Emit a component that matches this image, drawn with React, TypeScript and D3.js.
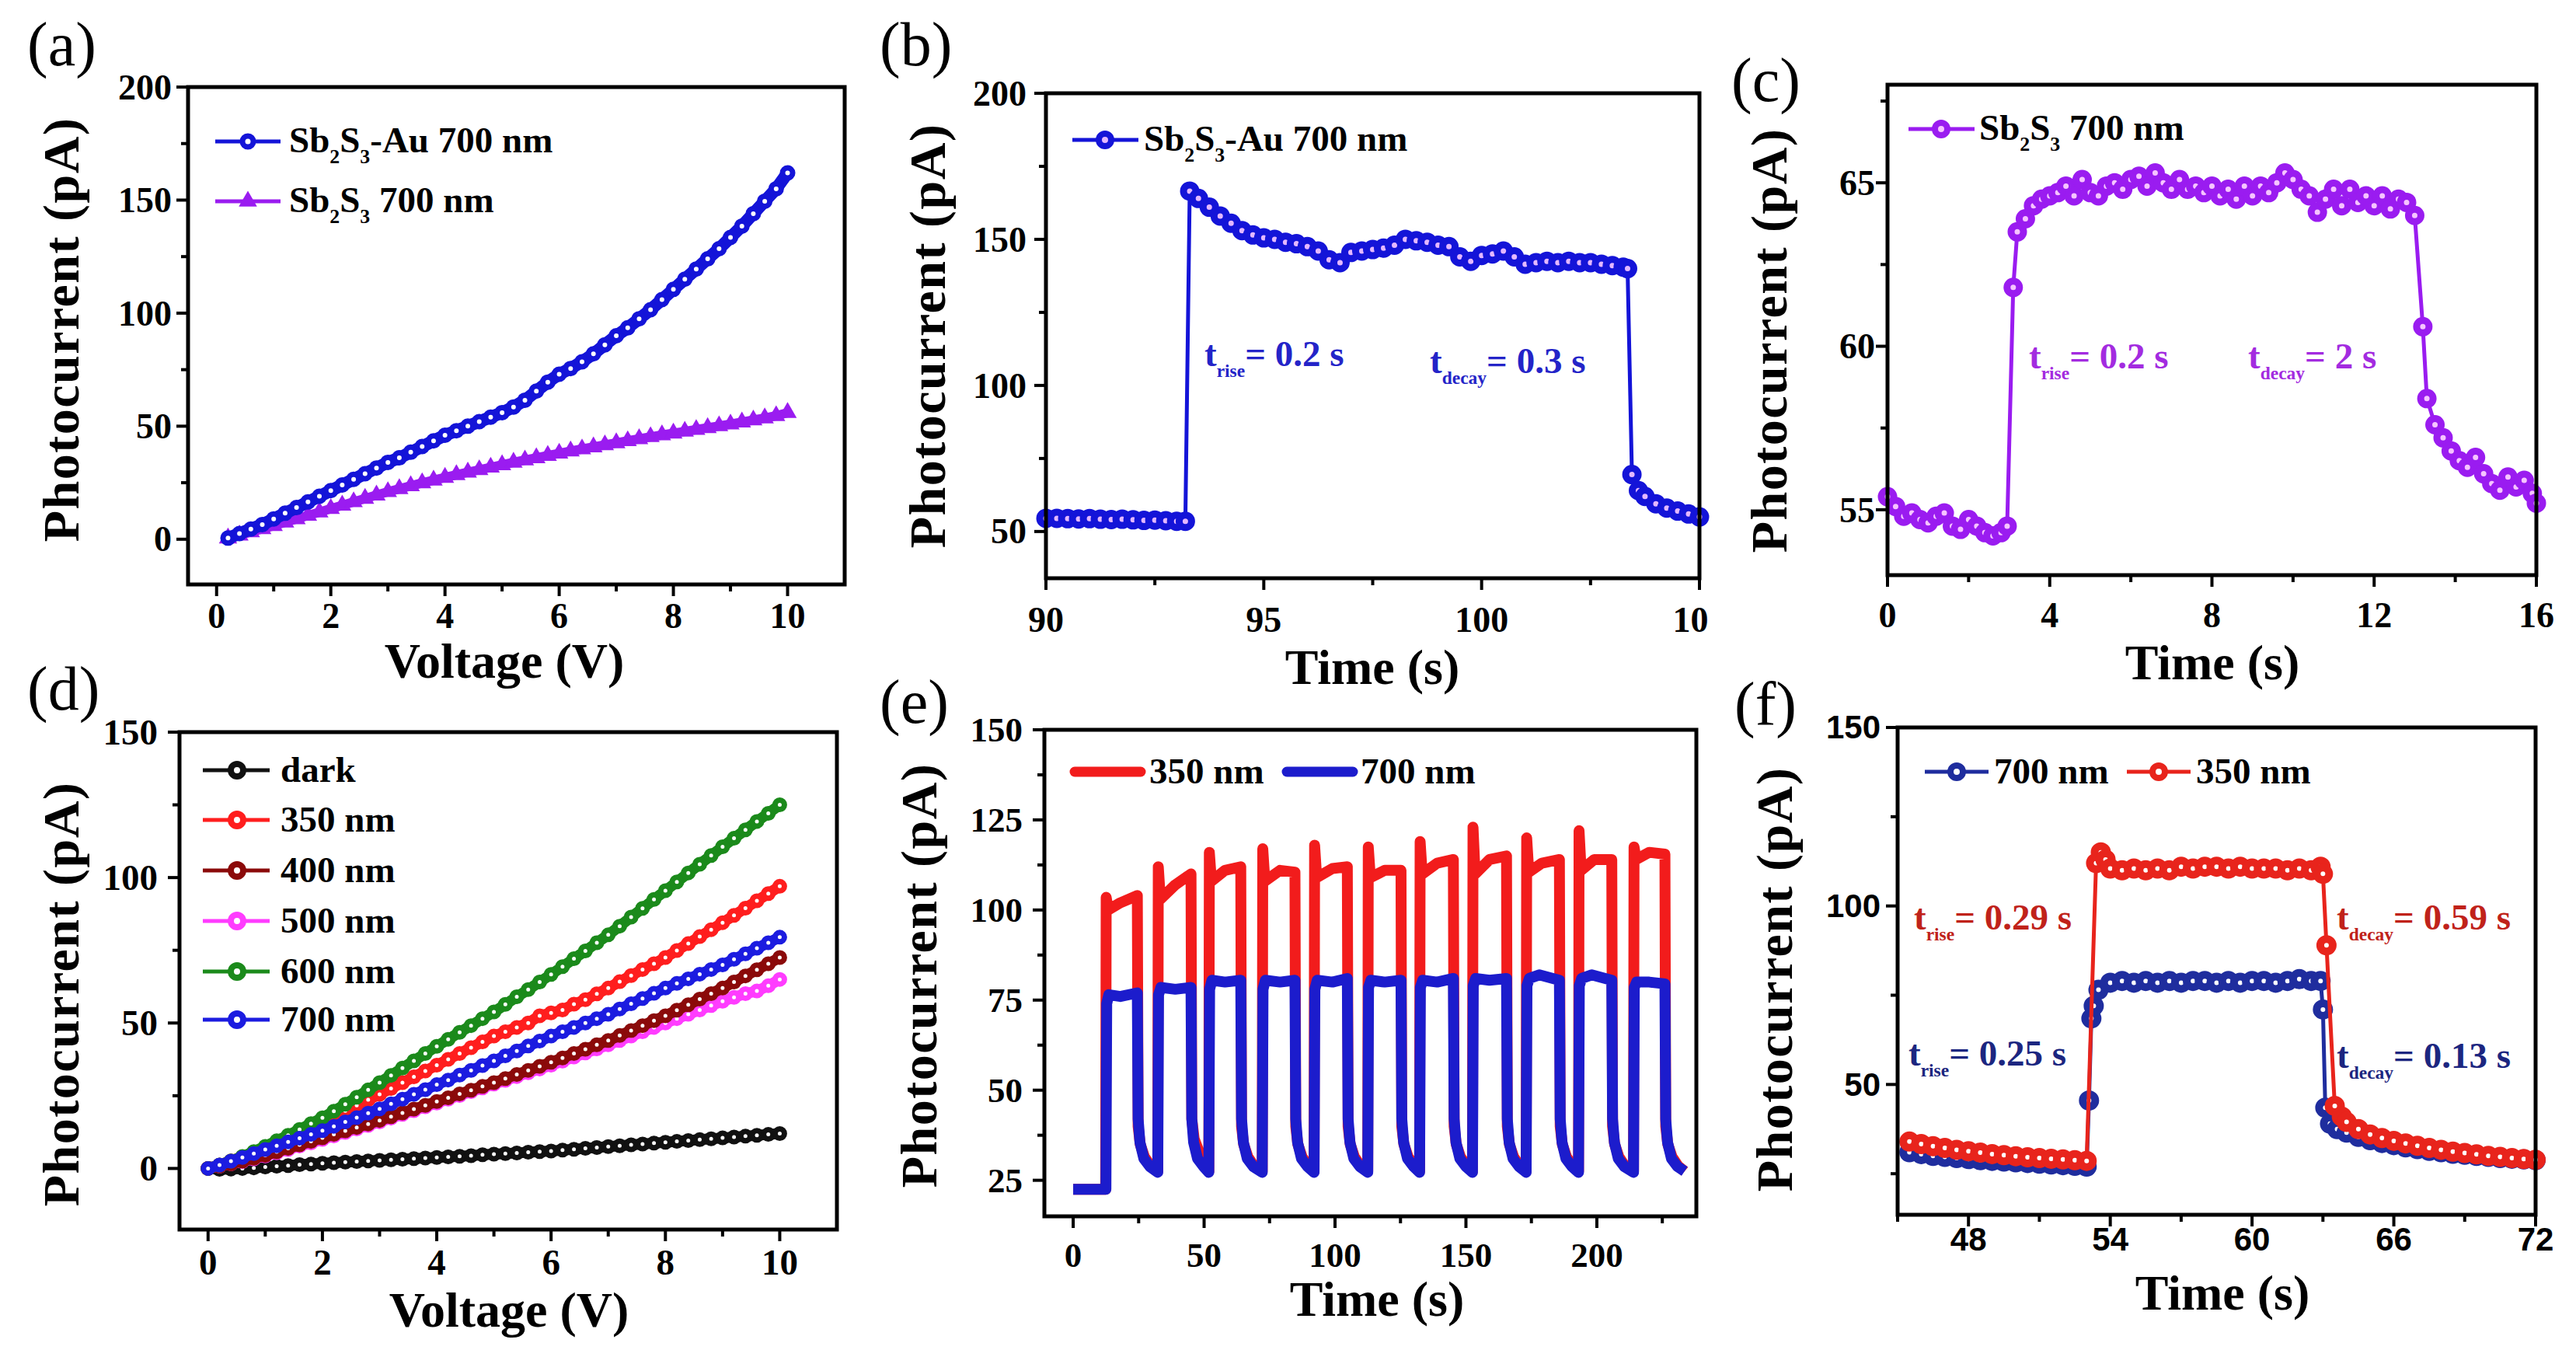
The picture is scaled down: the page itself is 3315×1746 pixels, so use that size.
import React from 'react';
import * as d3 from 'd3';

const SERIF = '"Liberation Serif", "Times New Roman", serif';
const SANS = '"Liberation Sans", Arial, sans-serif';

type Pt = [number, number];

// ---------- data ----------
// (a) & (d) voltage grid
const voltD = [0, 0.2, 0.4, 0.6, 0.8, 1, 1.2, 1.4, 1.6, 1.8, 2, 2.2, 2.4, 2.6, 2.8, 3, 3.2, 3.4, 3.6, 3.8, 4, 4.2, 4.4, 4.6, 4.8, 5, 5.2, 5.4, 5.6, 5.8, 6, 6.2, 6.4, 6.6, 6.8, 7, 7.2, 7.4, 7.6, 7.8, 8, 8.2, 8.4, 8.6, 8.8, 9, 9.2, 9.4, 9.6, 9.8, 10];
const voltA = voltD.slice(1);

// (a) I-V under 700 nm
const aAu = [0.5, 2.5, 4.5, 6.5, 9, 11.5, 14, 16.5, 19, 21.5, 24, 26.5, 29, 31.5, 34, 36, 38.5, 41, 43.5, 46, 48, 50, 52, 54, 56, 58.5, 61.5, 65.5, 69.5, 73, 75.5, 78.5, 82, 86, 90, 93.5, 97.5, 101.5, 106, 110.5, 115, 119.5, 124, 128.5, 133.5, 138.5, 144, 149.5, 155, 162];
const aBare = [0.5, 1.8, 3.2, 4.6, 6, 7.5, 9, 10.5, 12, 13.5, 15, 16.5, 18, 19.5, 21, 22.3, 23.6, 24.9, 26.1, 27.3, 28.5, 29.6, 30.7, 31.8, 32.9, 34, 35, 36, 37, 38, 39, 39.9, 40.8, 41.7, 42.6, 43.5, 44.4, 45.3, 46.1, 46.9, 47.7, 48.5, 49.3, 50.1, 50.9, 51.8, 52.7, 53.6, 54.6, 56];

// (b) Sb2S3-Au time response
const bTrace: Pt[] = [[90, 54.5], [90.25, 54.5], [90.5, 54.4], [90.75, 54.3], [91, 54.4], [91.25, 54.2], [91.5, 54.1], [91.75, 54.2], [92, 54], [92.25, 53.8], [92.5, 53.9], [92.75, 53.7], [93, 53.5], [93.2, 53.5],
  [93.3, 166.5], [93.5, 164], [93.75, 161], [94, 158], [94.25, 155.5], [94.5, 153], [94.75, 151.5], [95, 150.5], [95.25, 150], [95.5, 149], [95.75, 148.5], [96, 147.5], [96.25, 146], [96.5, 143], [96.75, 142], [97, 145.5], [97.25, 146], [97.5, 146.5], [97.75, 147], [98, 148], [98.25, 150], [98.5, 149.5], [98.75, 149], [99, 148], [99.25, 147.5], [99.5, 144], [99.75, 142.5], [100, 144.5], [100.25, 145], [100.5, 146], [100.75, 144], [101, 141.5], [101.25, 142], [101.5, 142.5], [101.75, 142], [102, 142.5], [102.25, 142], [102.5, 142], [102.75, 141.5], [103, 141], [103.25, 140.5], [103.35, 140],
  [103.45, 69.5], [103.6, 64], [103.75, 62], [104, 59.5], [104.25, 58], [104.5, 57], [104.75, 56], [105, 55]];

// (c) Sb2S3 time response
const cTrace: Pt[] = [[0, 55.4], [0.2, 55.1], [0.4, 54.8], [0.6, 54.9], [0.8, 54.7], [1, 54.6], [1.2, 54.8], [1.4, 54.9], [1.6, 54.5], [1.8, 54.4], [2, 54.7], [2.2, 54.5], [2.4, 54.3], [2.6, 54.2], [2.8, 54.3], [2.95, 54.5],
  [3.1, 61.8], [3.2, 63.5], [3.4, 63.9], [3.6, 64.3], [3.8, 64.5], [4, 64.6], [4.2, 64.7], [4.4, 64.9], [4.6, 64.6], [4.8, 65.1], [5, 64.7], [5.2, 64.6], [5.4, 64.9], [5.6, 65], [5.8, 64.8], [6, 65.1], [6.2, 65.2], [6.4, 64.9], [6.6, 65.3], [6.8, 65], [7, 64.8], [7.2, 65.1], [7.4, 64.8], [7.6, 64.9], [7.8, 64.7], [8, 64.9], [8.2, 64.6], [8.4, 64.8], [8.6, 64.5], [8.8, 64.9], [9, 64.6], [9.2, 64.9], [9.4, 64.7], [9.6, 65], [9.8, 65.3], [10, 65.1], [10.2, 64.8], [10.4, 64.6], [10.6, 64.1], [10.8, 64.5], [11, 64.8], [11.2, 64.3], [11.4, 64.8], [11.6, 64.4], [11.8, 64.6], [12, 64.3], [12.2, 64.6], [12.4, 64.2], [12.6, 64.5], [12.8, 64.4], [13, 64],
  [13.2, 60.6], [13.3, 58.4], [13.5, 57.6], [13.7, 57.2], [13.9, 56.8], [14.1, 56.5], [14.3, 56.3], [14.5, 56.6], [14.7, 56.1], [14.9, 55.8], [15.1, 55.6], [15.3, 56], [15.5, 55.7], [15.7, 55.9], [15.9, 55.5], [16, 55.2]];

// (d) I-V at several wavelengths
const dDark = [0, -0.3, -0.2, 0, 0.2, 0.5, 0.8, 1, 1.3, 1.5, 1.8, 2, 2.2, 2.4, 2.6, 2.8, 3, 3.2, 3.4, 3.6, 3.8, 4, 4.2, 4.4, 4.7, 4.9, 5.1, 5.3, 5.6, 5.8, 6, 6.3, 6.6, 6.9, 7.2, 7.5, 7.8, 8.1, 8.4, 8.7, 9, 9.3, 9.6, 9.9, 10.2, 10.5, 10.8, 11.1, 11.4, 11.7, 12];
const d350 = [0, 1.2, 2.6, 4, 5.5, 7, 8.7, 10.5, 12.3, 14.1, 16, 17.9, 19.8, 21.7, 23.6, 25.5, 27.5, 29.5, 31.5, 33.5, 35.5, 37.5, 39.5, 41.5, 43.5, 45.5, 47, 48.5, 50, 52.5, 53.5, 54.5, 56.5, 58, 60, 62, 64.2, 66.3, 68.4, 70.4, 72.5, 74.9, 77.3, 79.7, 82.1, 84.5, 87, 89.5, 92, 94.5, 97];
const d400 = [0, 0.8, 1.6, 2.5, 3.5, 4.5, 5.7, 6.9, 8.1, 9.3, 10.5, 11.7, 12.9, 14.1, 15.3, 16.5, 17.8, 19.1, 20.4, 21.7, 23, 24.3, 25.6, 26.9, 28.2, 29.5, 30.9, 32.3, 33.7, 35.1, 36.5, 38, 39.5, 41, 42.5, 44, 45.7, 47.4, 49.1, 50.8, 52.5, 54.4, 56.3, 58.2, 60.1, 62, 64.1, 66.2, 68.3, 70.4, 72.5];
const d500 = [0, 0.8, 1.6, 2.4, 3.3, 4.3, 5.4, 6.5, 7.7, 8.8, 10, 11.2, 12.4, 13.6, 14.8, 16, 17.3, 18.6, 19.9, 21.2, 22.5, 23.8, 25.1, 26.4, 27.7, 29, 30.3, 31.6, 32.9, 34.2, 35.5, 36.9, 38.3, 39.7, 41.1, 42.5, 44, 45.5, 47, 48.5, 50, 51.5, 53, 54.5, 56, 57.5, 58.8, 60.1, 61, 62.8, 65];
const d600 = [0, 1.2, 2.6, 4.1, 5.8, 7.6, 9.5, 11.4, 13.4, 15.4, 17.4, 19.7, 22.1, 24.5, 27, 29.5, 32, 34.5, 37, 39.5, 42, 44.4, 46.8, 49.1, 51.5, 53.8, 56.4, 59, 61.5, 64.1, 66.7, 69.4, 72.1, 74.8, 77.6, 80.3, 83.3, 86.4, 89.4, 92.5, 95.5, 98.5, 101.6, 104.6, 107.6, 110.6, 113.5, 116.4, 119.3, 122.1, 125];
const d700 = [0, 1.2, 2.5, 3.8, 5.1, 6.5, 7.8, 9.1, 10.4, 11.7, 13, 14.5, 16, 17.5, 19, 20.5, 22.2, 23.8, 25.5, 27.1, 28.8, 30.4, 32.1, 33.7, 35.4, 37, 38.7, 40.4, 42.1, 43.8, 45.5, 47, 48.5, 50, 51.5, 53, 54.8, 56.6, 58.4, 60.2, 62, 63.6, 65.2, 66.8, 68.4, 70, 71.9, 73.8, 75.7, 77.6, 79.5];
const dLabels = ['dark', '350 nm', '400 nm', '500 nm', '600 nm', '700 nm'];

// (e) on/off cycling
const e700: Pt[] = [[0, 22.5], [12.5, 22.5],
  [12.8, 74], [13.6, 76.5], [18, 76], [24.5, 77], [24.8, 42], [25.5, 35.5], [27, 31], [29.3, 28.8], [32.3, 27.2],
  [32.6, 76.5], [33.5, 78.5], [39, 78], [45, 78.5], [45.3, 42], [46, 35.5], [47.5, 31], [49.8, 28.8], [51.8, 27.2],
  [52.1, 78], [53, 80.5], [58, 80], [64, 80.5], [64.3, 42], [65, 35.5], [66.5, 31], [68.8, 28.8], [72.2, 27.2],
  [72.5, 78], [73.4, 80.5], [79, 80], [84.7, 80.5], [85, 42], [85.7, 35.5], [87.2, 31], [89.5, 28.8], [92, 27.2],
  [92.3, 78], [93.2, 80.5], [99, 80], [104.7, 81], [105, 42], [105.7, 35.5], [107.2, 31], [109.5, 28.8], [112.5, 27.2],
  [112.8, 78.5], [113.7, 80.5], [119, 80], [125.2, 80.5], [125.5, 42], [126.2, 35.5], [127.7, 31], [130, 28.8], [132.3, 27.2],
  [132.6, 78.5], [133.5, 80.5], [139, 80], [145.2, 81], [145.5, 42], [146.2, 35.5], [147.7, 31], [150, 28.8], [152.5, 27.2],
  [152.8, 79], [153.7, 81], [159, 80.5], [165.5, 81], [165.8, 42], [166.5, 35.5], [168, 31], [170.3, 28.8], [173, 27.2],
  [173.3, 79], [174.2, 81], [178, 82], [185.7, 80.5], [186, 42], [186.7, 35.5], [188.2, 31], [190.5, 28.8], [193, 27.2],
  [193.3, 79], [194.2, 81], [198, 82], [205.7, 80.5], [206, 42], [206.7, 35.5], [208.2, 31], [210.5, 28.8], [214, 27.2],
  [214.3, 78.5], [215.2, 80], [220, 80], [226, 79.5], [226.3, 42], [227, 35.5], [228.5, 31], [230.8, 28.8], [233.5, 27.5]];
const e350: Pt[] = [[0, 22.5], [12.4, 22.5],
  [12.6, 103.5], [13.4, 100], [18, 102], [24.5, 104], [24.8, 40], [25.6, 35], [27.2, 31.5], [29.5, 29], [32.3, 27.5],
  [32.5, 112], [33.3, 103], [39, 107], [45, 110], [45.3, 42], [46.2, 36.5], [48, 33], [50, 30], [51.8, 27.5],
  [52, 116], [52.8, 108], [58, 111], [64, 112], [64.3, 40], [65.1, 35], [66.7, 31.5], [69, 29], [72.2, 27.5],
  [72.4, 117], [73.2, 108], [79, 111], [84.7, 110.5], [85, 40], [85.8, 35], [87.4, 31.5], [89.7, 29], [92, 27.5],
  [92.2, 118], [93, 109], [99, 111.5], [104.7, 112], [105, 40], [105.8, 35], [107.4, 31.5], [109.7, 29], [112.5, 27.5],
  [112.7, 117.5], [113.5, 109], [119, 111], [125.2, 111], [125.5, 40], [126.3, 35], [127.9, 31.5], [130.2, 29], [132.3, 27.5],
  [132.5, 119], [133.3, 110], [139, 113], [145.2, 114], [145.5, 40], [146.3, 35], [147.9, 31.5], [150.2, 29], [152.5, 27.5],
  [152.7, 123], [153.5, 110], [159, 114], [165.5, 115], [165.8, 40], [166.6, 35], [168.2, 31.5], [170.5, 29], [173, 27.5],
  [173.2, 120], [174, 110.5], [179, 113], [185.7, 114], [186, 40], [186.8, 35], [188.4, 31.5], [190.7, 29], [193, 27.5],
  [193.2, 122], [194, 111], [199, 114], [205.7, 114], [206, 40], [206.8, 35], [208.4, 31.5], [210.7, 29], [214, 27.5],
  [214.2, 117.5], [215, 114], [220, 116], [226, 115.5], [226.3, 40], [227.1, 35], [228.7, 31.5], [231, 29], [233.5, 27.5]];

// (f) single cycle, both wavelengths
const f700: Pt[] = [[45.5, 31], [46, 30.5], [46.5, 30], [47, 29.7], [47.5, 29.4], [48, 29.1], [48.5, 28.8], [49, 28.6], [49.5, 28.4], [50, 28.2], [50.5, 28], [51, 27.8], [51.5, 27.6], [52, 27.4], [52.5, 27.2], [53, 27],
  [53.1, 45.5], [53.2, 68.5], [53.3, 72], [53.5, 76.5], [54, 78.5], [54.5, 79], [55, 78.5], [55.5, 79], [56, 78.5], [56.5, 79], [57, 78.5], [57.5, 79], [58, 79], [58.5, 78.5], [59, 79], [59.5, 78.5], [60, 79], [60.5, 79], [61, 78.5], [61.5, 79], [62, 79.5], [62.5, 79], [62.9, 79],
  [63, 71], [63.1, 43.5], [63.3, 39], [63.6, 37.5], [64, 36.5], [64.5, 35.3], [65, 34.4], [65.5, 33.6], [66, 33], [66.5, 32.4], [67, 31.9], [67.5, 31.4], [68, 31], [68.5, 30.6], [69, 30.3], [69.5, 30], [70, 29.7], [70.5, 29.4], [71, 29.2], [71.5, 29], [72, 28.8]];
const f350: Pt[] = [[45.5, 34], [46, 33.3], [46.5, 32.7], [47, 32.2], [47.5, 31.7], [48, 31.3], [48.5, 30.9], [49, 30.5], [49.5, 30.2], [50, 29.9], [50.5, 29.6], [51, 29.4], [51.5, 29.2], [52, 29], [52.5, 28.8], [53, 28.6],
  [53.4, 112], [53.6, 115], [53.8, 113], [54, 110.5], [54.5, 110], [55, 110.5], [55.5, 110], [56, 110.5], [56.5, 110], [57, 111], [57.5, 110.5], [58, 111], [58.5, 111], [59, 110.5], [59.5, 111], [60, 110.5], [60.5, 110.5], [61, 110.5], [61.5, 110], [62, 110.5], [62.5, 110], [62.9, 111],
  [63, 109], [63.15, 89], [63.5, 44], [63.8, 41], [64, 39.5], [64.5, 37.5], [65, 36], [65.5, 35], [66, 34.2], [66.5, 33.5], [67, 32.8], [67.5, 32.2], [68, 31.7], [68.5, 31.2], [69, 30.8], [69.5, 30.4], [70, 30], [70.5, 29.7], [71, 29.4], [71.5, 29.1], [72, 28.9]];

// ---------- colours ----------
const BLUE = '#1414d8';
const PURPLE = '#9a1cf0';
const D_COLORS = ['#111111', '#ff1e1e', '#8b0a0a', '#ff3cff', '#1b8a1b', '#1c1ce0'];
const E_RED = '#f21c1c';
const E_BLUE = '#1c1ccc';
const F_BLUE = '#1f2d9e';
const F_RED = '#e8241c';

// ---------- helpers ----------
type Scale = d3.ScaleLinear<number, number>;
type Box = [number, number, number, number];

interface AxesProps {
  sx: Scale; sy: Scale; box: Box;
  xMajor: number[]; xMinor: number[]; yMajor: number[]; yMinor: number[];
  xLabelY: number; yLabelX: number; font?: string; size?: number;
}

function Axes({ sx, sy, box, xMajor, xMinor, yMajor, yMinor, xLabelY, yLabelX, font = SERIF, size = 46 }: AxesProps) {
  const [l, t, r, b] = box;
  return (
    <g>
      {xMajor.map(v => <line key={'xa' + v} x1={sx(v)} x2={sx(v)} y1={b} y2={b + 15} stroke="#000" strokeWidth={4} />)}
      {xMinor.map(v => <line key={'xi' + v} x1={sx(v)} x2={sx(v)} y1={b} y2={b + 9} stroke="#000" strokeWidth={4} />)}
      {yMajor.map(v => <line key={'ya' + v} x1={l - 15} x2={l} y1={sy(v)} y2={sy(v)} stroke="#000" strokeWidth={4} />)}
      {yMinor.map(v => <line key={'yi' + v} x1={l - 9} x2={l} y1={sy(v)} y2={sy(v)} stroke="#000" strokeWidth={4} />)}
      {xMajor.map(v => (
        <text key={'xl' + v} x={sx(v)} y={xLabelY} textAnchor="middle" fontFamily={font} fontWeight="bold" fontSize={size}>{v}</text>
      ))}
      {yMajor.map(v => (
        <text key={'yl' + v} x={yLabelX} y={sy(v) + size * 0.34} textAnchor="end" fontFamily={font} fontWeight="bold" fontSize={size}>{v}</text>
      ))}
      <rect x={l} y={t} width={r - l} height={b - t} fill="none" stroke="#000" strokeWidth={5} />
    </g>
  );
}

function Titles({ xTitle, xt, yt, tag, tagPos }: { xTitle: string; xt: Pt; yt: Pt; tag: string; tagPos: Pt }) {
  return (
    <g fontFamily={SERIF}>
      <text x={xt[0]} y={xt[1]} textAnchor="middle" fontWeight="bold" fontSize={64}>{xTitle}</text>
      <text transform={`translate(${yt[0]},${yt[1]}) rotate(-90)`} textAnchor="middle" fontWeight="bold" fontSize={66} letterSpacing={1.5}>Photocurrent (pA)</text>
      <text x={tagPos[0]} y={tagPos[1]} fontSize={80}>{tag}</text>
    </g>
  );
}

function Rich({ x, y, size, fill = '#000', parts, subScale = 0.55, shift = 0.3 }: { x: number; y: number; size: number; fill?: string; parts: [string, boolean][]; subScale?: number; shift?: number }) {
  let cur = 0;
  return (
    <text x={x} y={y} fontFamily={SERIF} fontWeight="bold" fontSize={size} fill={fill} style={{ whiteSpace: 'pre' }}>
      {parts.map(([s, sub], i) => {
        const target = sub ? size * shift : 0;
        const dy = target - cur;
        cur = target;
        return <tspan key={i} dy={dy} fontSize={sub ? size * subScale : size}>{s}</tspan>;
      })}
    </text>
  );
}

function Dots({ pts, sx, sy, r, color, fill = '#fff', sw = 5 }: { pts: Pt[]; sx: Scale; sy: Scale; r: number; color: string; fill?: string; sw?: number }) {
  return <g>{pts.map((d, i) => <circle key={i} cx={sx(d[0])} cy={sy(d[1])} r={r} fill={fill} stroke={color} strokeWidth={sw} />)}</g>;
}

function mkLine(sx: Scale, sy: Scale) {
  return d3.line<Pt>().x(d => sx(d[0])).y(d => sy(d[1]));
}

// ---------- panels ----------
function PanelA() {
  const box: Box = [242, 112, 1087, 752];
  const sx = d3.scaleLinear().domain([-0.5, 11]).range([box[0], box[2]]);
  const sy = d3.scaleLinear().domain([-20, 200]).range([box[3], box[1]]);
  const line = mkLine(sx, sy);
  const au: Pt[] = voltA.map((v, i) => [v, aAu[i]]);
  const bare: Pt[] = voltA.map((v, i) => [v, aBare[i]]);
  const tri = d3.symbol().type(d3.symbolTriangle).size(240)() as string;
  return (
    <g>
      <path d={line(bare) ?? ''} fill="none" stroke={PURPLE} strokeWidth={12} />
      {bare.map((d, i) => <path key={i} d={tri} transform={`translate(${sx(d[0])},${sy(d[1])})`} fill={PURPLE} />)}
      <path d={line(au) ?? ''} fill="none" stroke={BLUE} strokeWidth={16} strokeLinejoin="round" />
      <Dots pts={au} sx={sx} sy={sy} r={6.5} sw={7} color={BLUE} />
      <Axes sx={sx} sy={sy} box={box} xMajor={[0, 2, 4, 6, 8, 10]} xMinor={[1, 3, 5, 7, 9]}
        yMajor={[0, 50, 100, 150, 200]} yMinor={[25, 75, 125, 175]} xLabelY={808} yLabelX={221} />
      <Titles xTitle="Voltage (V)" xt={[649, 872]} yt={[101, 424]} tag="(a)" tagPos={[35, 84]} />
      <line x1={277} x2={361} y1={182} y2={182} stroke={BLUE} strokeWidth={5} />
      <circle cx={319} cy={182} r={7} fill="#fff" stroke={BLUE} strokeWidth={7} />
      <Rich x={372} y={196} size={47} parts={[['Sb', false], ['2', true], ['S', false], ['3', true], ['-Au 700 nm', false]]} />
      <line x1={277} x2={361} y1={259} y2={259} stroke={PURPLE} strokeWidth={5} />
      <path d={tri} transform="translate(319,259)" fill={PURPLE} />
      <Rich x={372} y={273} size={47} parts={[['Sb', false], ['2', true], ['S', false], ['3', true], [' 700 nm', false]]} />
    </g>
  );
}

function PanelB() {
  const box: Box = [1346, 120, 2187, 744];
  const sx = d3.scaleLinear().domain([90, 105]).range([box[0], box[2]]);
  const sy = d3.scaleLinear().domain([34, 200]).range([box[3], box[1]]);
  const line = mkLine(sx, sy);
  return (
    <g clipPath="url(#clipB)">
      <path d={line(bTrace) ?? ''} fill="none" stroke={BLUE} strokeWidth={5} />
      <Dots pts={bTrace} sx={sx} sy={sy} r={8} sw={9} color={BLUE} fill="#e4b8ff" />
      <Axes sx={sx} sy={sy} box={box} xMajor={[90, 95, 100, 105]} xMinor={[92.5, 97.5, 102.5]}
        yMajor={[50, 100, 150, 200]} yMinor={[75, 125, 175]} xLabelY={813} yLabelX={1321} />
      <Titles xTitle="Time (s)" xt={[1766, 880]} yt={[1216, 432]} tag="(b)" tagPos={[1132, 84]} />
      <line x1={1380} x2={1465} y1={180} y2={180} stroke={BLUE} strokeWidth={5} />
      <circle cx={1422} cy={180} r={8} fill="#e4b8ff" stroke={BLUE} strokeWidth={8} />
      <Rich x={1472} y={194} size={47} parts={[['Sb', false], ['2', true], ['S', false], ['3', true], ['-Au 700 nm', false]]} />
      <Rich x={1550} y={471} size={47} fill="#2424c8" subScale={0.5} parts={[['t', false], ['rise', true], ['= 0.2 s', false]]} />
      <Rich x={1840} y={480} size={47} fill="#2424c8" subScale={0.5} parts={[['t', false], ['decay', true], ['= 0.3 s', false]]} />
    </g>
  );
}

function PanelC() {
  const box: Box = [2429, 109, 3264, 740];
  const sx = d3.scaleLinear().domain([0, 16]).range([box[0], box[2]]);
  const sy = d3.scaleLinear().domain([53, 68]).range([box[3], box[1]]);
  const line = mkLine(sx, sy);
  return (
    <g>
      <path d={line(cTrace) ?? ''} fill="none" stroke={PURPLE} strokeWidth={5} />
      <Dots pts={cTrace} sx={sx} sy={sy} r={8} sw={9} color={PURPLE} fill="#f6c4ff" />
      <Axes sx={sx} sy={sy} box={box} xMajor={[0, 4, 8, 12, 16]} xMinor={[2, 6, 10, 14]}
        yMajor={[55, 60, 65]} yMinor={[57.5, 62.5, 67.5]} xLabelY={807} yLabelX={2413} />
      <Titles xTitle="Time (s)" xt={[2847, 874]} yt={[2299, 438]} tag="(c)" tagPos={[2228, 130]} />
      <line x1={2456} x2={2541} y1={166} y2={166} stroke={PURPLE} strokeWidth={5} />
      <circle cx={2498} cy={166} r={8} fill="#f6c4ff" stroke={PURPLE} strokeWidth={8} />
      <Rich x={2547} y={180} size={47} parts={[['Sb', false], ['2', true], ['S', false], ['3', true], [' 700 nm', false]]} />
      <Rich x={2611} y={474} size={47} fill="#a32be0" subScale={0.5} parts={[['t', false], ['rise', true], ['= 0.2 s', false]]} />
      <Rich x={2893} y={474} size={47} fill="#a32be0" subScale={0.5} parts={[['t', false], ['decay', true], ['= 2 s', false]]} />
    </g>
  );
}

function PanelD() {
  const box: Box = [231, 942, 1077, 1582];
  const sx = d3.scaleLinear().domain([-0.5, 11]).range([box[0], box[2]]);
  const sy = d3.scaleLinear().domain([-21, 150]).range([box[3], box[1]]);
  const line = mkLine(sx, sy);
  const series = [dDark, d350, d400, d500, d600, d700].map(arr => voltD.map((v, i) => [v, arr[i]] as Pt));
  const order = [0, 3, 2, 1, 4, 5];
  const legY = [991, 1055, 1120, 1185, 1250, 1312];
  return (
    <g>
      {order.map(k => (
        <g key={k}>
          <path d={line(series[k]) ?? ''} fill="none" stroke={D_COLORS[k]} strokeWidth={14} strokeLinejoin="round" />
          <Dots pts={series[k]} sx={sx} sy={sy} r={6} sw={7} color={D_COLORS[k]} />
        </g>
      ))}
      <Axes sx={sx} sy={sy} box={box} xMajor={[0, 2, 4, 6, 8, 10]} xMinor={[1, 3, 5, 7, 9]}
        yMajor={[0, 50, 100, 150]} yMinor={[25, 75, 125]} xLabelY={1640} yLabelX={203} size={47} />
      <Titles xTitle="Voltage (V)" xt={[655, 1707]} yt={[101, 1279]} tag="(d)" tagPos={[35, 913]} />
      {dLabels.map((lab, k) => (
        <g key={lab}>
          <line x1={261} x2={347} y1={legY[k]} y2={legY[k]} stroke={D_COLORS[k]} strokeWidth={5} />
          <circle cx={305} cy={legY[k]} r={8} fill="#fff" stroke={D_COLORS[k]} strokeWidth={8} />
          <text x={361} y={legY[k] + 15} fontFamily={SERIF} fontWeight="bold" fontSize={47}>{lab}</text>
        </g>
      ))}
    </g>
  );
}

function PanelE() {
  const box: Box = [1344, 939, 2183, 1565];
  const sx = d3.scaleLinear().domain([-11, 238]).range([box[0], box[2]]);
  const sy = d3.scaleLinear().domain([15, 150]).range([box[3], box[1]]);
  const line = mkLine(sx, sy);
  return (
    <g>
      <path d={line(e350) ?? ''} fill="none" stroke={E_RED} strokeWidth={14} strokeLinejoin="round" />
      <path d={line(e700) ?? ''} fill="none" stroke={E_BLUE} strokeWidth={14} strokeLinejoin="round" />
      <Axes sx={sx} sy={sy} box={box} xMajor={[0, 50, 100, 150, 200]} xMinor={[25, 75, 125, 175, 225]}
        yMajor={[25, 50, 75, 100, 125, 150]} yMinor={[37.5, 62.5, 87.5, 112.5, 137.5]} xLabelY={1630} yLabelX={1316} size={45} />
      <Titles xTitle="Time (s)" xt={[1772, 1693]} yt={[1205, 1255]} tag="(e)" tagPos={[1132, 930]} />
      <line x1={1383} x2={1468} y1={993} y2={993} stroke={E_RED} strokeWidth={13} strokeLinecap="round" />
      <text x={1479} y={1008} fontFamily={SERIF} fontWeight="bold" fontSize={47}>350 nm</text>
      <line x1={1656} x2={1741} y1={993} y2={993} stroke={E_BLUE} strokeWidth={13} strokeLinecap="round" />
      <text x={1751} y={1008} fontFamily={SERIF} fontWeight="bold" fontSize={47}>700 nm</text>
    </g>
  );
}

function PanelF() {
  const box: Box = [2442, 936, 3263, 1563];
  const sx = d3.scaleLinear().domain([45, 72]).range([box[0], box[2]]);
  const sy = d3.scaleLinear().domain([13.5, 150]).range([box[3], box[1]]);
  const line = mkLine(sx, sy);
  return (
    <g>
      <path d={line(f700) ?? ''} fill="none" stroke={F_BLUE} strokeWidth={5} />
      <Dots pts={f700} sx={sx} sy={sy} r={8} sw={10} color={F_BLUE} />
      <path d={line(f350) ?? ''} fill="none" stroke={F_RED} strokeWidth={5} />
      <Dots pts={f350} sx={sx} sy={sy} r={8} sw={10} color={F_RED} />
      <Axes sx={sx} sy={sy} box={box} xMajor={[48, 54, 60, 66, 72]} xMinor={[45, 51, 57, 63, 69]}
        yMajor={[50, 100, 150]} yMinor={[25, 75, 125]} xLabelY={1609} yLabelX={2420} font={SANS} size={42} />
      <Titles xTitle="Time (s)" xt={[2860, 1685]} yt={[2306, 1260]} tag="(f)" tagPos={[2232, 933]} />
      <line x1={2477} x2={2559} y1={993} y2={993} stroke={F_BLUE} strokeWidth={5} />
      <circle cx={2518} cy={993} r={8} fill="#fff" stroke={F_BLUE} strokeWidth={8} />
      <text x={2566} y={1008} fontFamily={SERIF} fontWeight="bold" fontSize={47}>700 nm</text>
      <line x1={2737} x2={2819} y1={993} y2={993} stroke={F_RED} strokeWidth={5} />
      <circle cx={2778} cy={993} r={8} fill="#fff" stroke={F_RED} strokeWidth={8} />
      <text x={2826} y={1008} fontFamily={SERIF} fontWeight="bold" fontSize={47}>350 nm</text>
      <Rich x={2463} y={1196} size={47} fill="#c0221a" subScale={0.5} parts={[['t', false], ['rise', true], ['= 0.29 s', false]]} />
      <Rich x={3007} y={1196} size={47} fill="#c0221a" subScale={0.5} parts={[['t', false], ['decay', true], ['= 0.59 s', false]]} />
      <Rich x={2456} y={1371} size={47} fill="#1c2680" subScale={0.5} parts={[['t', false], ['rise', true], ['= 0.25 s', false]]} />
      <Rich x={3007} y={1374} size={47} fill="#1c2680" subScale={0.5} parts={[['t', false], ['decay', true], ['= 0.13 s', false]]} />
    </g>
  );
}

export default function App() {
  return (
    <svg width={3315} height={1746} viewBox="0 0 3315 1746"
      style={{ position: 'absolute', left: 0, top: 0, display: 'block' }}>
      <defs>
        <clipPath id="clipB"><rect x={1100} y={0} width={1100} height={900} /></clipPath>
      </defs>
      <rect width={3315} height={1746} fill="#fff" />
      <PanelA />
      <PanelB />
      <PanelC />
      <PanelD />
      <PanelE />
      <PanelF />
    </svg>
  );
}
